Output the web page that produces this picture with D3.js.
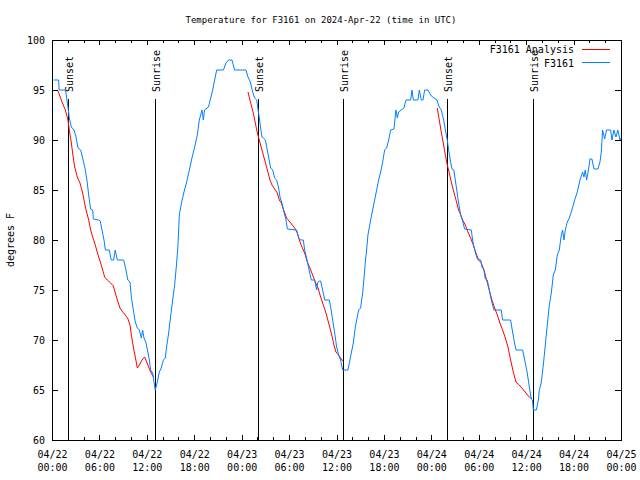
<!DOCTYPE html>
<html><head><meta charset="utf-8">
<script src="https://cdn.jsdelivr.net/npm/d3@7"></script>
<style>
html,body{margin:0;padding:0;background:#fff;}
svg text{font-family:"DejaVu Sans Mono","Liberation Mono",monospace;font-size:10px;fill:#000;}
</style></head>
<body>
<script>
// ---------- data (hours since 2024-04-22 00:00 UTC, degrees F) ----------
const titleText = "Temperature for F3161 on 2024-Apr-22 (time in UTC)";
const yLabel = "degrees F";
const yTicks = [60,65,70,75,80,85,90,95,100];
const seriesNames = ["F3161 Analysis","F3161"];
const seriesColors = ["#ff0000","#0080ff"];

const obsHours = [0.2,0.84,0.9,1.6,1.75,2.02,2.19,2.45,2.78,3.04,3.29,3.63,3.88,4.22,4.47,4.64,4.89,5.15,5.23,5.9,6.1,6.33,6.58,6.75,7.25,7.5,7.8,8.0,8.27,9.07,9.36,9.6,9.87,10.04,10.29,10.54,10.8,11.05,11.3,11.47,11.64,11.9,12.15,12.32,12.48,12.74,12.9,13.07,13.33,13.58,13.83,14.09,14.34,14.5,14.76,15.0,15.27,15.52,15.77,15.94,16.11,16.36,16.7,17.04,17.38,17.71,18.05,18.39,18.64,18.98,19.15,19.3,19.8,20.08,20.33,20.58,20.84,21.7,22.0,22.35,22.78,23.1,24.55,24.8,25.1,25.39,25.64,25.9,26.23,26.4,26.57,26.74,27.0,27.41,27.67,27.92,28.17,28.43,28.68,28.85,29.1,29.35,29.61,29.78,30.96,31.21,31.46,31.8,31.97,32.22,32.48,32.81,33.23,33.49,33.65,33.82,33.99,34.25,34.5,35.09,35.26,35.51,35.77,36.02,36.27,36.52,36.78,37.45,37.62,37.87,38.13,38.38,38.63,38.8,39.05,39.31,39.48,39.65,39.81,39.98,40.32,40.57,40.83,41.08,41.33,41.59,41.84,42.09,42.34,42.6,42.85,43.27,43.52,43.7,43.86,44.2,44.54,44.79,45.38,45.55,45.72,46.3,46.48,46.73,46.95,47.15,47.57,48.0,48.7,49.0,49.26,49.56,49.77,50.02,50.19,50.4,50.61,50.86,51.03,51.2,51.45,51.71,51.96,52.21,53.06,53.22,53.48,53.82,54.24,54.41,54.66,54.83,55.08,55.33,55.59,55.92,56.85,57.02,58.03,58.2,58.46,58.71,59.55,59.89,60.14,60.4,60.65,60.8,60.91,61.29,61.54,61.66,61.9,62.17,62.42,62.67,62.93,63.18,63.43,63.69,63.94,64.19,64.45,64.61,64.78,64.95,65.2,65.46,65.79,66.13,66.47,66.81,67.14,67.31,67.48,67.65,67.9,68.07,68.32,68.58,69.08,69.34,69.51,69.67,69.93,70.18,70.69,70.86,71.1,71.36,71.6,71.87,72.0];
const obsTemps = [96,96,95,95,94.8,93.3,92.2,91.3,91,90.3,89.2,89,88.2,87,85.7,84.5,83.1,83,82.1,82,81.9,81,80,79,79,78,78,79,78,78,77,76,75.8,74.3,73,71.8,71.2,71,70.2,71,70.2,69.7,68.7,68,67,66.7,65.8,65,65.8,66.8,67.2,68,68.2,69.3,70.7,72.3,74,75.5,77.7,79.5,82.5,83.6,84.8,85.8,87,88.2,89.3,90.5,92,93,92,93,93.3,94.2,95,96,97,97,97.7,98,98,97,97,96.3,95.8,94.8,94.2,94,92.2,91.2,90.3,90.2,90,88.3,87.2,87,86.2,86,85.2,84.3,83.7,82.8,82,81.1,81,80.2,80,80,79,78.2,77.2,76,76,75,75.8,75.9,75.9,75,74,74,73.3,72,70.7,69.3,68.5,68,67,67,67.7,68.7,69.7,71.3,72.3,73,73.2,74.7,76.2,77.8,79,80.5,82,83,84,85,86,86.8,87.8,89,89.2,90,91,91.1,93,92.2,92.8,93,93.2,94,94,95,94,94,95,94,94,95,95,94.4,94,93.3,93,92,91,90,89,88,87.1,87,86,85.1,83.7,82.5,81.9,81.1,81,80,79,78.1,78,77.3,77,76.1,76,75,74,73,73,72,72,71.2,70,69,69,67.7,66.7,65.3,64.1,64,63,63,64,65,65.7,67.5,69.5,71.5,73.5,74.7,76.5,77,78.5,79,80.5,81,80,81,81.8,82.2,83,84,84.8,86,86.8,86.3,87,86,87.1,88.1,88.1,87.1,87.1,87.8,88.8,91,90.1,91,91,90,91,90.3,91,90,90.2];

// analysis series: three separate runs, null marks a gap
const anaHours = [0.76,1.27,1.69,2.02,2.19,2.45,2.61,2.87,3.2,3.54,3.88,4.22,4.64,4.89,5.15,5.4,5.65,5.9,6.16,6.41,6.66,7.0,7.42,7.76,8.01,8.27,8.6,8.94,9.28,9.62,9.87,10.04,10.29,10.54,10.8,11.05,11.39,11.72,11.98,12.23,12.48,12.85,
  null,
  24.8,25.14,25.47,25.73,25.98,26.23,26.57,26.91,27.25,27.58,27.84,28.17,28.51,28.76,29.02,29.27,29.69,30.2,30.7,31.04,31.3,31.63,31.97,32.31,32.64,32.98,33.32,33.66,33.99,34.33,34.67,35.0,35.34,35.68,35.93,36.27,36.52,36.78,
  null,
  48.75,49.0,49.26,49.51,49.77,50.02,50.27,50.53,50.78,51.12,51.45,51.62,51.96,52.3,52.63,52.97,53.31,53.65,53.98,54.32,54.66,55.0,55.33,55.67,56.01,56.35,56.68,57.02,57.36,57.7,58.03,58.37,58.71,59.13,59.55,59.97,60.4,60.73];
const anaTemps = [94.9,93.8,93,92,91,89.7,88.7,87.3,86.3,85.7,84.7,83.3,82,81,80.3,79.7,79,78.3,77.7,77,76.3,76,75.7,75.4,74.7,74,73.2,72.8,72.5,72.1,71.5,70.5,69.3,68.3,67.2,67.5,68,68.3,67.8,67.3,66.8,66.3,
  null,
  94.8,93.7,92.7,91.7,90.7,90,89,88,87,86,85.5,85.1,84.7,84,83.7,83.1,82.2,81.7,81.2,80.7,80,79.3,78.7,77.8,77.2,76.5,75.8,75.2,74.3,73.5,72.7,71.7,70.7,69.5,68.8,68.5,68.2,67.9,
  null,
  93.2,92,90.8,89.7,88.5,87.5,86.7,85.8,85,84,83,82.7,82,81.5,80.8,80.2,79.5,78.7,78,77.7,77,76,75,74,73.2,72.5,71.7,71,70.2,69.3,68,66.8,65.8,65.5,65.1,64.7,64.3,64.1];

const eventHours = [2.02,12.99,26.07,36.86,50.02,60.9];
const eventLabels = ["Sunset","Sunrise","Sunset","Sunrise","Sunset","Sunrise"];

// ---------- chart ----------
const W=640,H=480;
const L=52,R=621,T=40,B=440;
const t0 = Date.UTC(2024,3,22,0,0);
const toDate = h => new Date(t0 + h*3600e3);

const x = d3.scaleUtc().domain([toDate(0),toDate(72)]).range([L,R]);
const y = d3.scaleLinear().domain([60,100]).range([B,T]);

const svg = d3.select("body").append("svg").attr("width",W).attr("height",H);

// title
svg.append("text").attr("x",321).attr("y",23).attr("text-anchor","middle")
  .style("font-size","9px").text(titleText);
// y label
svg.append("text").attr("transform","translate(14,240) rotate(-90)").attr("text-anchor","middle").text(yLabel);

const crisp = g => g.attr("shape-rendering","crispEdges");

// axes
const fmtD = d3.utcFormat("%m/%d"), fmtT = d3.utcFormat("%H:%M");
const gxMinor = svg.append("g").attr("transform",`translate(0,${B})`)
  .call(d3.axisBottom(x).ticks(d3.utcHour.every(2)).tickSize(-3).tickFormat(""));
const gx = svg.append("g").attr("transform",`translate(0,${B})`)
  .call(d3.axisBottom(x).ticks(d3.utcHour.every(6)).tickSize(-5).tickFormat(""));
gx.selectAll(".tick text").each(function(d){
  const t=d3.select(this).attr("y",0).attr("dy",null);
  t.append("tspan").attr("x",0).attr("y",18).text(fmtD(d));
  t.append("tspan").attr("x",0).attr("y",31).text(fmtT(d));
});
const gxTopMinor = svg.append("g").attr("transform",`translate(0,${T})`)
  .call(d3.axisTop(x).ticks(d3.utcHour.every(2)).tickSize(-3).tickFormat(""));
const gxTop = svg.append("g").attr("transform",`translate(0,${T})`)
  .call(d3.axisTop(x).ticks(d3.utcHour.every(6)).tickSize(-5).tickFormat(""));
const gy = svg.append("g").attr("transform",`translate(${L},0)`)
  .call(d3.axisLeft(y).tickValues(yTicks).tickSize(-6).tickPadding(7));
const gyR = svg.append("g").attr("transform",`translate(${R},0)`)
  .call(d3.axisRight(y).tickValues(yTicks).tickSize(-6).tickFormat(""));
[gxMinor,gx,gxTopMinor,gxTop,gy,gyR].forEach(g=>{
  g.select(".domain").remove();
  g.attr("font-family",null).attr("font-size",null);
  g.selectAll("line").attr("stroke","#000");
  crisp(g);
});
gy.selectAll(".tick text").attr("dy","0.36em");

// border
svg.append("rect").attr("x",L).attr("y",T).attr("width",R-L).attr("height",B-T)
  .attr("fill","none").attr("stroke","#000").attr("shape-rendering","crispEdges");

// sunrise / sunset markers
const ev = svg.append("g");
eventHours.forEach((h,i)=>{
  const xx = Math.round(x(toDate(h)));
  ev.append("line").attr("x1",xx).attr("x2",xx).attr("y1",99).attr("y2",B)
    .attr("stroke","#000").attr("shape-rendering","crispEdges");
  ev.append("text").attr("transform",`translate(${xx+5},92) rotate(-90)`)
    .attr("text-anchor","start").text(eventLabels[i]);
});

// data lines
const line = d3.line().defined(d=>d[0]!=null && d[1]!=null)
  .x(d=>x(toDate(d[0]))).y(d=>y(d[1]));
const anaData = anaHours.map((h,i)=>[h,anaTemps[i]]);
const obsData = obsHours.map((h,i)=>[h,obsTemps[i]]);
svg.append("path").datum(anaData).attr("d",line).attr("fill","none")
  .attr("stroke",seriesColors[0]).attr("stroke-width",1);
svg.append("path").datum(obsData).attr("d",line).attr("fill","none")
  .attr("stroke",seriesColors[1]).attr("stroke-width",1);

// legend
const lg = svg.append("g");
[[seriesNames[0],53,49.5],[seriesNames[1],66.5,62.5]].forEach((r,i)=>{
  lg.append("text").attr("x",574).attr("y",r[1]).attr("text-anchor","end").text(r[0]);
  lg.append("line").attr("x1",582).attr("x2",610).attr("y1",r[2]).attr("y2",r[2])
    .attr("stroke",seriesColors[i]).attr("stroke-width",1);
});
</script>
</body></html>
